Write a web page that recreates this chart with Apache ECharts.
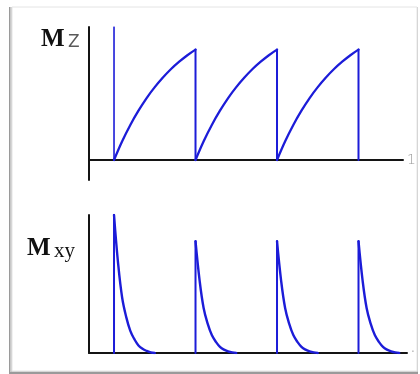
<!DOCTYPE html>
<html>
<head>
<meta charset="utf-8">
<script src="https://cdn.jsdelivr.net/npm/echarts@6/dist/echarts.min.js"></script>
<style>
  html, body { margin: 0; padding: 0; background: #ffffff; }
  #chart { width: 420px; height: 374px; }
</style>
</head>
<body>
<div id="chart"></div>
<script>
// Time axis is measured in repetition times (TR); RF pulses fire at these times
const pulseTimes = [0, 1, 2, 3];

// Longitudinal magnetisation before the first pulse
const mzInitial = 1.0;
// Mz regrowth over one TR after each pulse, sampled every mzStep
const mzRecovery = [0, 0.141, 0.264, 0.371, 0.466, 0.548, 0.620, 0.684, 0.739, 0.788, 0.830];
const mzStep = 0.1;

// Transverse signal right after each pulse
const mxyPeaks = [1.0, 0.81, 0.81, 0.81];
// Free induction decay, as a fraction of the peak, sampled every mxyStep
const mxyDecay = [1, 0.65, 0.40, 0.26, 0.16, 0.10, 0.055, 0.03, 0.015, 0.005, 0];
const mxyStep = 0.05;

// Axis end labels
const topAxisEndLabel = '1';
const bottomAxisEndLabel = '·';

const BLUE = '#1c1cd8';
const AXIS = '#141414';

function lineSeries(xi, data, width, smooth) {
  return {
    type: 'line', xAxisIndex: xi, yAxisIndex: xi, data: data,
    showSymbol: false, silent: true, animation: false,
    smooth: smooth,
    lineStyle: { color: BLUE, width: width, cap: 'round', join: 'round' }, z: 5
  };
}

const series = [];
// Mz: tipped to zero at the first pulse
series.push(lineSeries(0, [[pulseTimes[0], 0], [pulseTimes[0], mzInitial]], 1.6, false));
// Mz regrowth between pulses, then the drop to zero at the next pulse
for (let c = 0; c < pulseTimes.length - 1; c++) {
  const t0 = pulseTimes[c];
  const t1 = pulseTimes[c + 1];
  const curve = mzRecovery.map((v, i) => [+(t0 + i * mzStep).toFixed(3), v]);
  series.push(lineSeries(0, curve, 2.3, 0.4));
  series.push(lineSeries(0, [[t1, mzRecovery[mzRecovery.length - 1]], [t1, 0]], 2, false));
}
// Mxy: spike at each pulse followed by the decay
pulseTimes.forEach((t0, p) => {
  series.push(lineSeries(1, [[t0, 0], [t0, mxyPeaks[p]]], 2, false));
  const decay = mxyDecay.map((f, i) => [+(t0 + i * mxyStep).toFixed(3), +(mxyPeaks[p] * f).toFixed(4)]);
  series.push(lineSeries(1, decay, 2.4, 0.4));
});

function xAxisCfg(grid, max, name, nameStyle) {
  return {
    type: 'value', gridIndex: grid, min: -0.307, max: max,
    axisLine: { show: true, onZero: true, lineStyle: { color: AXIS, width: 2 } },
    axisTick: { show: false }, axisLabel: { show: false }, splitLine: { show: false },
    name: name, nameLocation: 'end', nameGap: 4, nameTextStyle: nameStyle
  };
}
function yAxisCfg(grid, min, max) {
  return {
    type: 'value', gridIndex: grid, min: min, max: max,
    axisLine: { show: true, onZero: false, lineStyle: { color: AXIS, width: 2 } },
    axisTick: { show: false }, axisLabel: { show: false }, splitLine: { show: false }
  };
}

const chart = echarts.init(document.getElementById('chart'), null, { renderer: 'canvas' });
chart.setOption({
  animation: false,
  backgroundColor: '#ffffff',
  grid: [
    { left: 89, top: 27, width: 314, height: 153 },
    { left: 89, top: 215, width: 318, height: 138 }
  ],
  xAxis: [
    xAxisCfg(0, 3.546, topAxisEndLabel, { color: '#9a9a9a', fontSize: 14, fontFamily: 'DejaVu Sans', fontWeight: 200 }),
    xAxisCfg(1, 3.595, bottomAxisEndLabel, { color: '#b0b0b0', fontSize: 12, fontFamily: 'DejaVu Sans', padding: [0, 0, 12, 0] })
  ],
  yAxis: [yAxisCfg(0, -0.15, 1.0), yAxisCfg(1, 0, 1.0)],
  graphic: [
    // card frame with soft shadow on the left and bottom
    { type: 'rect', z: -10, shape: { x: 9, y: 7, width: 409, height: 367 }, style: { fill: '#9a9a9a' } },
    { type: 'rect', z: -9, shape: { x: 10, y: 7, width: 408, height: 365 }, style: { fill: '#c8c8c8' } },
    { type: 'rect', z: -8, shape: { x: 12, y: 7, width: 405, height: 364 }, style: { fill: '#ffffff', stroke: '#e4e4e4', lineWidth: 1 } },
    // panel labels
    { type: 'text', z: 10, left: 41, top: 27, style: { text: 'M', font: 'bold 25px "Liberation Serif"', fill: '#111111' } },
    { type: 'text', z: 10, left: 68, top: 34, style: { text: 'Z', font: '17px "DejaVu Sans"', fill: '#5a5a5a' } },
    { type: 'text', z: 10, left: 27, top: 236, style: { text: 'M', font: 'bold 25px "Liberation Serif"', fill: '#111111' } },
    { type: 'text', z: 10, left: 54, top: 241, style: { text: 'xy', font: '21px "Liberation Serif"', fill: '#111111' } }
  ],
  series: series
});
</script>
</body>
</html>
